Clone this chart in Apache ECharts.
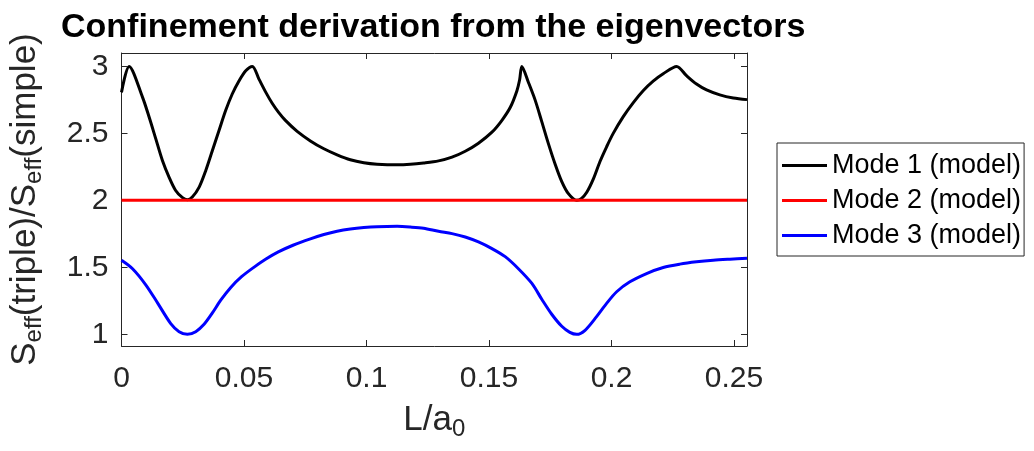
<!DOCTYPE html>
<html>
<head>
<meta charset="utf-8">
<script src="https://cdn.jsdelivr.net/npm/echarts@6/dist/echarts.min.js"></script>
<style>
  html, body { margin: 0; padding: 0; background: #fff; }
  #main { width: 1034px; height: 451px; }
</style>
</head>
<body>
<div id="main"></div>
<script>
// values
const xTicks = [0, 0.05, 0.1, 0.15, 0.2, 0.25];
const yTicks = [1, 1.5, 2, 2.5, 3];
const xMax = 0.2553;

const mode1X = [0, 0.0031, 0.0086, 0.0113, 0.0140, 0.0167, 0.0194, 0.0221, 0.0249, 0.0269, 0.0289,
  0.0317, 0.0344, 0.0371, 0.0398, 0.0425, 0.0452, 0.0480, 0.0507, 0.0534, 0.0561, 0.0588, 0.0615,
  0.0642, 0.0669, 0.0717, 0.0771, 0.0826, 0.0880, 0.0934, 0.0989, 0.1043, 0.1125, 0.1179, 0.1233,
  0.1294, 0.1349, 0.1403, 0.1457, 0.1512, 0.1552, 0.1587, 0.1614, 0.1625, 0.1634, 0.1661, 0.1688,
  0.1715, 0.1743, 0.1770, 0.1797, 0.1824, 0.1858, 0.1878, 0.1899, 0.1926, 0.1953, 0.1980, 0.2007,
  0.2048, 0.2089, 0.2130, 0.2170, 0.2211, 0.2266, 0.2306, 0.2347, 0.2388, 0.2442, 0.2497, 0.2553];
const mode1Y = [2.806, 3.0, 2.769, 2.62, 2.459, 2.298, 2.174, 2.074, 2.02, 2.005, 2.025,
  2.099, 2.223, 2.372, 2.521, 2.67, 2.794, 2.893, 2.968, 3.0, 2.905, 2.81, 2.725,
  2.655, 2.597, 2.515, 2.444, 2.385, 2.34, 2.303, 2.281, 2.27, 2.265, 2.269, 2.279,
  2.295, 2.323, 2.367, 2.427, 2.509, 2.596, 2.695, 2.819, 2.9, 3.0, 2.88, 2.75,
  2.59, 2.42, 2.27, 2.14, 2.05, 2.0, 2.015, 2.06, 2.16, 2.29, 2.40, 2.50,
  2.625, 2.73, 2.82, 2.89, 2.945, 3.0, 2.931, 2.868, 2.824, 2.787, 2.764, 2.752];

const mode2X = [0, xMax];
const mode2Y = [2, 2];

const mode3X = [0, 0.0045, 0.0099, 0.0147, 0.0201, 0.0235, 0.0269, 0.0303, 0.0337, 0.0371, 0.0405,
  0.0446, 0.0490, 0.0540, 0.0588, 0.0640, 0.0700, 0.0771, 0.0826, 0.0880, 0.0934, 0.0989, 0.1043,
  0.1125, 0.1179, 0.1233, 0.1294, 0.1349, 0.1403, 0.1457, 0.1512, 0.1566, 0.1620, 0.1675, 0.1716,
  0.1756, 0.1797, 0.1830, 0.1858, 0.1892, 0.1939, 0.1980, 0.2021, 0.2075, 0.2143, 0.2211, 0.2279,
  0.2347, 0.2415, 0.2483, 0.2553];
const mode3Y = [1.553, 1.49, 1.37, 1.235, 1.08, 1.02, 1.0, 1.02, 1.075, 1.16, 1.255,
  1.35, 1.43, 1.50, 1.56, 1.615, 1.665, 1.713, 1.745, 1.77, 1.787, 1.798, 1.804,
  1.806, 1.801, 1.792, 1.769, 1.752, 1.727, 1.69, 1.64, 1.58, 1.49, 1.38, 1.26,
  1.15, 1.06, 1.015, 1.0, 1.03, 1.132, 1.231, 1.318, 1.392, 1.454, 1.499, 1.524,
  1.541, 1.553, 1.561, 1.568];

const seriesNames = ['Mode 1 (model)', 'Mode 2 (model)', 'Mode 3 (model)'];
const seriesColors = ['#000000', '#ff0000', '#0000ff'];

const FONT = 'Liberation Sans, Arial, Helvetica, sans-serif';
const AX = '#262626';

function pairs(xs, ys) {
  return xs.map((x, i) => [x, ys[i]]);
}

const myChart = echarts.init(document.getElementById('main'), null, { renderer: 'canvas' });

const subRich = {
  n: { fontSize: 35, fontFamily: FONT, color: AX },
  s: { fontSize: 24, fontFamily: FONT, color: AX, padding: [18, 0, 0, 0] }
};

const axisBase = {
  type: 'value',
  axisLine: { show: true, onZero: false, lineStyle: { color: AX, width: 1 } },
  splitLine: { show: false }
};

const option = {
  animation: false,
  backgroundColor: '#ffffff',
  title: {
    text: 'Confinement derivation from the eigenvectors',
    left: 56,
    top: 6,
    textStyle: { fontFamily: FONT, fontSize: 34, fontWeight: 'bold', color: '#000' }
  },
  grid: { left: 121, top: 53, right: 287, bottom: 105, containLabel: false },
  legend: {
    orient: 'vertical',
    left: 777,
    top: 143,
    padding: [9, 3, 7, 5],
    icon: 'rect',
    itemWidth: 45,
    itemHeight: 3,
    itemGap: 8,
    borderColor: AX,
    borderWidth: 1,
    borderRadius: 0,
    backgroundColor: '#fff',
    textStyle: { fontFamily: FONT, fontSize: 27, color: '#000' },
    data: seriesNames
  },
  xAxis: [
    Object.assign({}, axisBase, {
      position: 'bottom',
      min: 0,
      max: xMax,
      axisTick: { inside: true, length: 6, customValues: xTicks, lineStyle: { color: AX } },
      axisLabel: { customValues: xTicks, fontFamily: FONT, fontSize: 30, color: AX, margin: 18 },
      name: '{n|L/a}{s|0}',
      nameLocation: 'middle',
      nameGap: 53,
      nameTextStyle: { rich: subRich }
    }),
    Object.assign({}, axisBase, {
      position: 'top',
      min: 0,
      max: xMax,
      axisTick: { inside: true, length: 6, customValues: xTicks, lineStyle: { color: AX } },
      axisLabel: { show: false }
    })
  ],
  yAxis: [
    Object.assign({}, axisBase, {
      position: 'left',
      min: 0.913,
      max: 3.1,
      axisTick: { inside: true, length: 6, customValues: yTicks, lineStyle: { color: AX } },
      axisLabel: { customValues: yTicks, fontFamily: FONT, fontSize: 30, color: AX, margin: 13 },
      name: '{n|S}{s|eff}{n|(triple)/S}{s|eff}{n|(simple)}',
      nameLocation: 'middle',
      nameRotate: 90,
      nameGap: 75,
      nameTextStyle: { rich: subRich }
    }),
    Object.assign({}, axisBase, {
      position: 'right',
      min: 0.913,
      max: 3.1,
      axisTick: { inside: true, length: 6, customValues: yTicks, lineStyle: { color: AX } },
      axisLabel: { show: false }
    })
  ],
  series: [
    [mode1X, mode1Y],
    [mode2X, mode2Y],
    [mode3X, mode3Y]
  ].map((d, i) => ({
    name: seriesNames[i],
    type: 'line',
    xAxisIndex: 0,
    yAxisIndex: 0,
    data: pairs(d[0], d[1]),
    symbol: 'none',
    showSymbol: false,
    smooth: 0.3,
    color: seriesColors[i],
    itemStyle: { color: seriesColors[i] },
    lineStyle: { color: seriesColors[i], width: 3 }
  }))
};

myChart.setOption(option);
</script>
</body>
</html>
